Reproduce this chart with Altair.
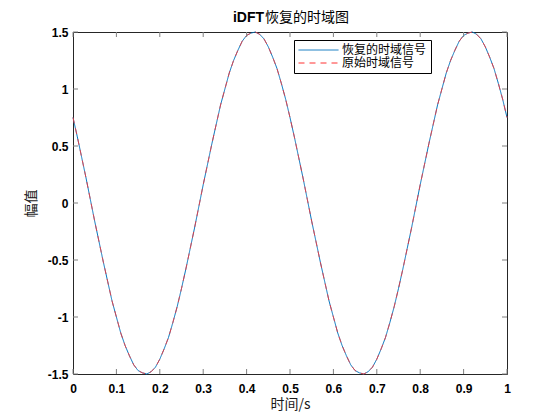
import altair as alt
import pandas as pd

# time axis (s)
t = [
    0.00, 0.01, 0.02, 0.03, 0.04, 0.05, 0.06, 0.07, 0.08, 0.09,
    0.10, 0.11, 0.12, 0.13, 0.14, 0.15, 0.16, 0.17, 0.18, 0.19,
    0.20, 0.21, 0.22, 0.23, 0.24, 0.25, 0.26, 0.27, 0.28, 0.29,
    0.30, 0.31, 0.32, 0.33, 0.34, 0.35, 0.36, 0.37, 0.38, 0.39,
    0.40, 0.41, 0.42, 0.43, 0.44, 0.45, 0.46, 0.47, 0.48, 0.49,
    0.50, 0.51, 0.52, 0.53, 0.54, 0.55, 0.56, 0.57, 0.58, 0.59,
    0.60, 0.61, 0.62, 0.63, 0.64, 0.65, 0.66, 0.67, 0.68, 0.69,
    0.70, 0.71, 0.72, 0.73, 0.74, 0.75, 0.76, 0.77, 0.78, 0.79,
    0.80, 0.81, 0.82, 0.83, 0.84, 0.85, 0.86, 0.87, 0.88, 0.89,
    0.90, 0.91, 0.92, 0.93, 0.94, 0.95, 0.96, 0.97, 0.98, 0.99,
    1.00,
]

# recovered signal (iDFT)
recovered = [
    0.75, 0.58, 0.40, 0.22, 0.03, -0.16, -0.34, -0.52, -0.69, -0.86,
    -1.00, -1.14, -1.25, -1.34, -1.42, -1.47, -1.49, -1.50, -1.48, -1.44,
    -1.37, -1.28, -1.18, -1.05, -0.91, -0.75, -0.58, -0.40, -0.22, -0.03,
    0.16, 0.34, 0.52, 0.69, 0.86, 1.00, 1.14, 1.25, 1.34, 1.42,
    1.47, 1.49, 1.50, 1.48, 1.44, 1.37, 1.28, 1.18, 1.05, 0.91,
    0.75, 0.58, 0.40, 0.22, 0.03, -0.16, -0.34, -0.52, -0.69, -0.86,
    -1.00, -1.14, -1.25, -1.34, -1.42, -1.47, -1.49, -1.50, -1.48, -1.44,
    -1.37, -1.28, -1.18, -1.05, -0.91, -0.75, -0.58, -0.40, -0.22, -0.03,
    0.16, 0.34, 0.52, 0.69, 0.86, 1.00, 1.14, 1.25, 1.34, 1.42,
    1.47, 1.49, 1.50, 1.48, 1.44, 1.37, 1.28, 1.18, 1.05, 0.91,
    0.75,
]

# original signal (overlaps the recovered one)
original = [
    0.75, 0.58, 0.40, 0.22, 0.03, -0.16, -0.34, -0.52, -0.69, -0.86,
    -1.00, -1.14, -1.25, -1.34, -1.42, -1.47, -1.49, -1.50, -1.48, -1.44,
    -1.37, -1.28, -1.18, -1.05, -0.91, -0.75, -0.58, -0.40, -0.22, -0.03,
    0.16, 0.34, 0.52, 0.69, 0.86, 1.00, 1.14, 1.25, 1.34, 1.42,
    1.47, 1.49, 1.50, 1.48, 1.44, 1.37, 1.28, 1.18, 1.05, 0.91,
    0.75, 0.58, 0.40, 0.22, 0.03, -0.16, -0.34, -0.52, -0.69, -0.86,
    -1.00, -1.14, -1.25, -1.34, -1.42, -1.47, -1.49, -1.50, -1.48, -1.44,
    -1.37, -1.28, -1.18, -1.05, -0.91, -0.75, -0.58, -0.40, -0.22, -0.03,
    0.16, 0.34, 0.52, 0.69, 0.86, 1.00, 1.14, 1.25, 1.34, 1.42,
    1.47, 1.49, 1.50, 1.48, 1.44, 1.37, 1.28, 1.18, 1.05, 0.91,
    0.75,
]

series_names = ["恢复的时域信号", "原始时域信号"]
series_colors = ["#0072BD", "#FF3030"]
series_dash = [[1, 0], [6, 5]]

x_ticks = [0, 0.1, 0.2, 0.3, 0.4, 0.5, 0.6, 0.7, 0.8, 0.9, 1]
y_ticks = [-1.5, -1, -0.5, 0, 0.5, 1, 1.5]

title_latin = "iDFT"
title_cjk = "恢复的时域图"
x_title = "时间/s"
y_title = "幅值"

W, H = 434, 342
LAT = "Liberation Sans"
CJK = "Noto Sans CJK SC"
TICK_LEN = 5
TICK_COLOR = "#808080"
TITLE_SPLIT = 191

df_rec = pd.DataFrame({"t": t, "v": recovered, "series": series_names[0]})
df_org = pd.DataFrame({"t": t, "v": original, "series": series_names[1]})
df_xt = pd.DataFrame({"t": x_ticks})
df_yt = pd.DataFrame({"v": y_ticks})
df_t1 = pd.DataFrame({"label": [title_latin]})
df_t2 = pd.DataFrame({"label": [title_cjk]})

xscale = alt.Scale(domain=[0, 1], nice=False, zero=False)
yscale = alt.Scale(domain=[-1.5, 1.5], nice=False, zero=False)

xaxis = alt.Axis(
    values=x_ticks, labelExpr="toString(datum.value)", ticks=False, tickSize=0,
    domain=False, grid=False, labelPadding=9,
    title=x_title, titleFont=CJK,
    titleFontSize=14, titleFontWeight="normal", titleColor="#1a1a1a",
    titleY=30, titleBaseline="middle", labelFlush=False, labelOverlap=False,
)
yaxis = alt.Axis(
    values=y_ticks, labelExpr="toString(datum.value)", ticks=False, tickSize=0,
    domain=False, grid=False, labelPadding=5,
    title=y_title, titleFont=CJK,
    titleFontSize=14, titleFontWeight="normal", titleColor="#1a1a1a",
    titleX=-42, titleY=H / 2, titleBaseline="middle", titleAlign="center",
    labelFlush=False, labelOverlap=False,
)

legend = alt.Legend(
    title=None, orient="none", legendX=221, legendY=8,
    strokeColor="black", fillColor="white", padding=4, rowPadding=1,
    symbolType="stroke", symbolSize=1600, symbolStrokeWidth=1, clipHeight=12,
    labelFont=CJK, labelFontSize=12, labelColor="#000000", labelOffset=3,
    labelLimit=300, cornerRadius=0,
)
color = alt.Color(
    "series:N", scale=alt.Scale(domain=series_names, range=series_colors), legend=legend
)
dash = alt.StrokeDash(
    "series:N", scale=alt.Scale(domain=series_names, range=series_dash), legend=legend
)

X = alt.X("t:Q", scale=xscale, axis=xaxis)
Y = alt.Y("v:Q", scale=yscale, axis=yaxis)

line_rec = alt.Chart(df_rec).mark_line(strokeWidth=1, clip=False).encode(
    x=X, y=Y, color=color, strokeDash=dash,
)
line_org = alt.Chart(df_org).mark_line(strokeWidth=1, strokeOpacity=0.8, clip=False).encode(
    x=X, y=Y, color=color, strokeDash=dash,
)

tick_bottom = alt.Chart(df_xt).mark_rule(color=TICK_COLOR, strokeWidth=1).encode(
    x=X, y=alt.value(H), y2=alt.value(H - TICK_LEN)
)
tick_top = alt.Chart(df_xt).mark_rule(color=TICK_COLOR, strokeWidth=1).encode(
    x=X, y=alt.value(0), y2=alt.value(TICK_LEN)
)
tick_left = alt.Chart(df_yt).mark_rule(color=TICK_COLOR, strokeWidth=1).encode(
    y=Y, x=alt.value(0), x2=alt.value(TICK_LEN)
)
tick_right = alt.Chart(df_yt).mark_rule(color=TICK_COLOR, strokeWidth=1).encode(
    y=Y, x=alt.value(W), x2=alt.value(W - TICK_LEN)
)

title_a = alt.Chart(df_t1).mark_text(
    font=LAT, fontSize=14, fontWeight="bold",
    align="right", baseline="alphabetic",
).encode(text="label:N", x=alt.value(TITLE_SPLIT), y=alt.value(-10))
title_b = alt.Chart(df_t2).mark_text(
    font=CJK, fontSize=14, fontWeight="normal",
    align="left", baseline="alphabetic",
).encode(text="label:N", x=alt.value(TITLE_SPLIT + 1), y=alt.value(-10))

chart = alt.layer(
    line_rec, line_org, tick_bottom, tick_top, tick_left, tick_right, title_a, title_b
).properties(
    width=W, height=H,
    background="white",
    autosize=alt.AutoSizeParams(type="none"),
    padding={"left": 65, "top": 24, "right": 45, "bottom": 42},
).configure_view(
    stroke="#262626", strokeWidth=1
).configure_axis(
    labelFont=LAT, labelFontWeight="bold", labelFontSize=12, labelColor="#000000"
).configure_text(
    color="#000000"
)

chart.save("out.html", embed_options={"renderer": "svg", "actions": False})
